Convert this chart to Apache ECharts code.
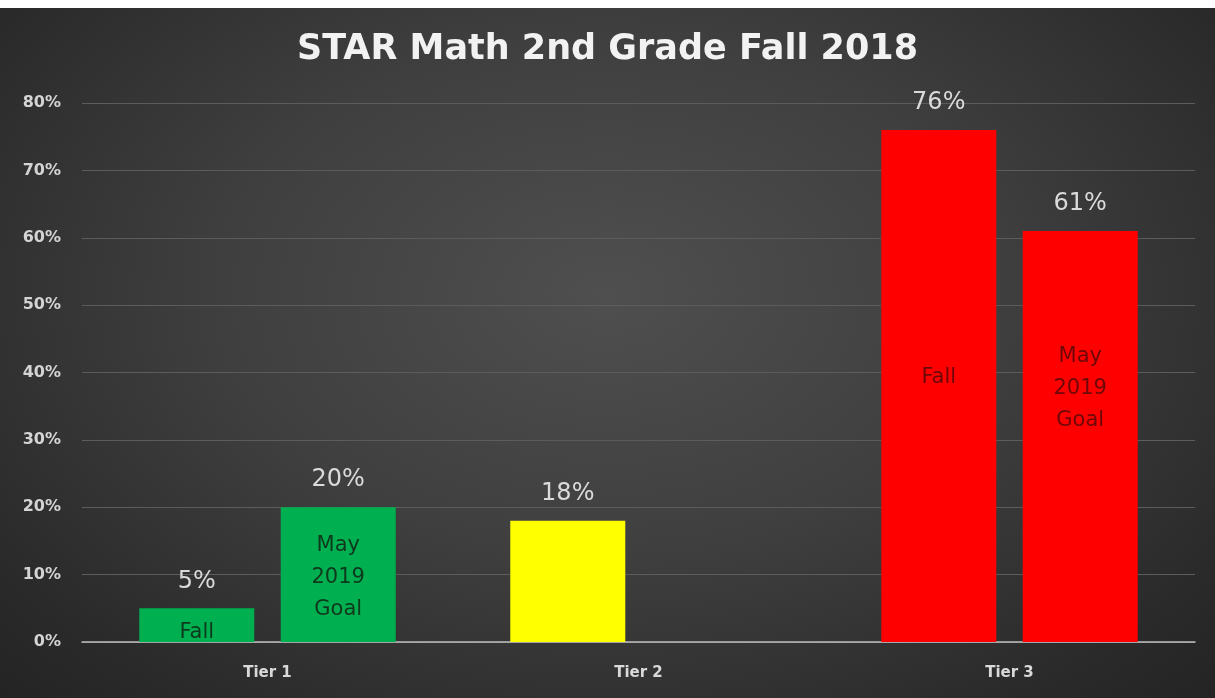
<!DOCTYPE html>
<html>
<head>
<meta charset="utf-8">
<script src="https://cdn.jsdelivr.net/npm/echarts@6/dist/echarts.min.js"></script>
<style>
	html,body{margin:0;padding:0;background:#fff;}
	#chart{width:1215px;height:698px;
		background:radial-gradient(ellipse at 50% 42%, #4f4f4f 0%, #3f3f3f 45%, #2a2a2a 85%, #242424 100%);}
</style>
</head>
<body>
<div id="chart"></div>
<script>
var tiers = ['Tier 1', 'Tier 2', 'Tier 3'];
var fallVals = [5, 18, 76];
var goalVals = [20, null, 61];
var fallColors = ['#00b050', '#ffff00', '#ff0000'];
var goalColors = ['#00b050', '#00b050', '#ff0000'];
var fallText = ['Fall', '', 'Fall'];
var goalText = ['May\n2019\nGoal', '', 'May\n2019\nGoal'];
var yTicks = [0, 80, 10];

var chart = echarts.init(document.getElementById('chart'));
var font = '"DejaVu Sans", sans-serif';
var innerColor = ['#0d3a1c', '#333', '#6e0808'];

function barData(vals, colors, texts, pos) {
	return vals.map(function(v, i){
		return {
			value: v,
			itemStyle: {color: colors[i]},
			label: {
				show: texts[i] !== '',
				formatter: texts[i],
				color: innerColor[i],
				position: pos[i].p,
				offset: pos[i].o
			}
		};
	});
}
function topData(vals) {
	return vals.map(function(v){ return v == null ? null : 0; });
}
function topLabel(vals) {
	return {
		show: true, position: 'top', distance: 15,
		color: '#dadada', fontSize: 24, fontFamily: font,
		formatter: function(p){ return vals[p.dataIndex] + '%'; }
	};
}

var option = {
	backgroundColor: 'transparent',
	title: {
		text: 'STAR Math 2nd Grade Fall 2018',
		left: 'center', top: 27,
		textStyle: {color: '#f2f2f2', fontSize: 35, fontWeight: 'bold', fontFamily: font}
	},
	graphic: [{type: 'rect', shape: {x: 0, y: 0, width: 1215, height: 8}, style: {fill: '#fff'}}],
	grid: {left: 82, right: 20, top: 103, bottom: 56},
	xAxis: {
		type: 'category', data: tiers,
		axisLine: {lineStyle: {color: '#bfbfbf', width: 1.5}},
		axisTick: {show: false},
		axisLabel: {color: '#d9d9d9', fontSize: 15, fontWeight: 'bold', fontFamily: font, margin: 24}
	},
	yAxis: {
		type: 'value', min: yTicks[0], max: yTicks[1], interval: yTicks[2],
		axisLabel: {formatter: '{value}%', color: '#d4d4d4', fontSize: 16, fontWeight: 'bold', fontFamily: font, margin: 21},
		splitLine: {lineStyle: {color: '#5c5c5c', width: 1}},
		axisLine: {show: false}
	},
	series: [
		{
			name: 'Fall', type: 'bar', stack: 'fall', barWidth: 115, barGap: '23%',
			data: barData(fallVals, fallColors, fallText,
				[{p: 'insideBottom', o: [0, 12]}, {p: 'inside', o: [0, 0]}, {p: 'inside', o: [0, -8]}]),
			label: {fontSize: 21, fontFamily: font, lineHeight: 32}
		},
		{
			name: 'May 2019 Goal', type: 'bar', stack: 'goal', barWidth: 115,
			data: barData(goalVals, goalColors, goalText,
				[{p: 'inside', o: [0, 3]}, {p: 'inside', o: [0, 0]}, {p: 'inside', o: [0, -48]}]),
			label: {fontSize: 21, fontFamily: font, lineHeight: 32}
		},
		{
			name: 'Fall top', type: 'bar', stack: 'fall', barWidth: 115,
			data: topData(fallVals), label: topLabel(fallVals), silent: true
		},
		{
			name: 'Goal top', type: 'bar', stack: 'goal', barWidth: 115,
			data: topData(goalVals), label: topLabel(goalVals), silent: true
		}
	]
};
chart.setOption(option);
</script>
</body>
</html>
